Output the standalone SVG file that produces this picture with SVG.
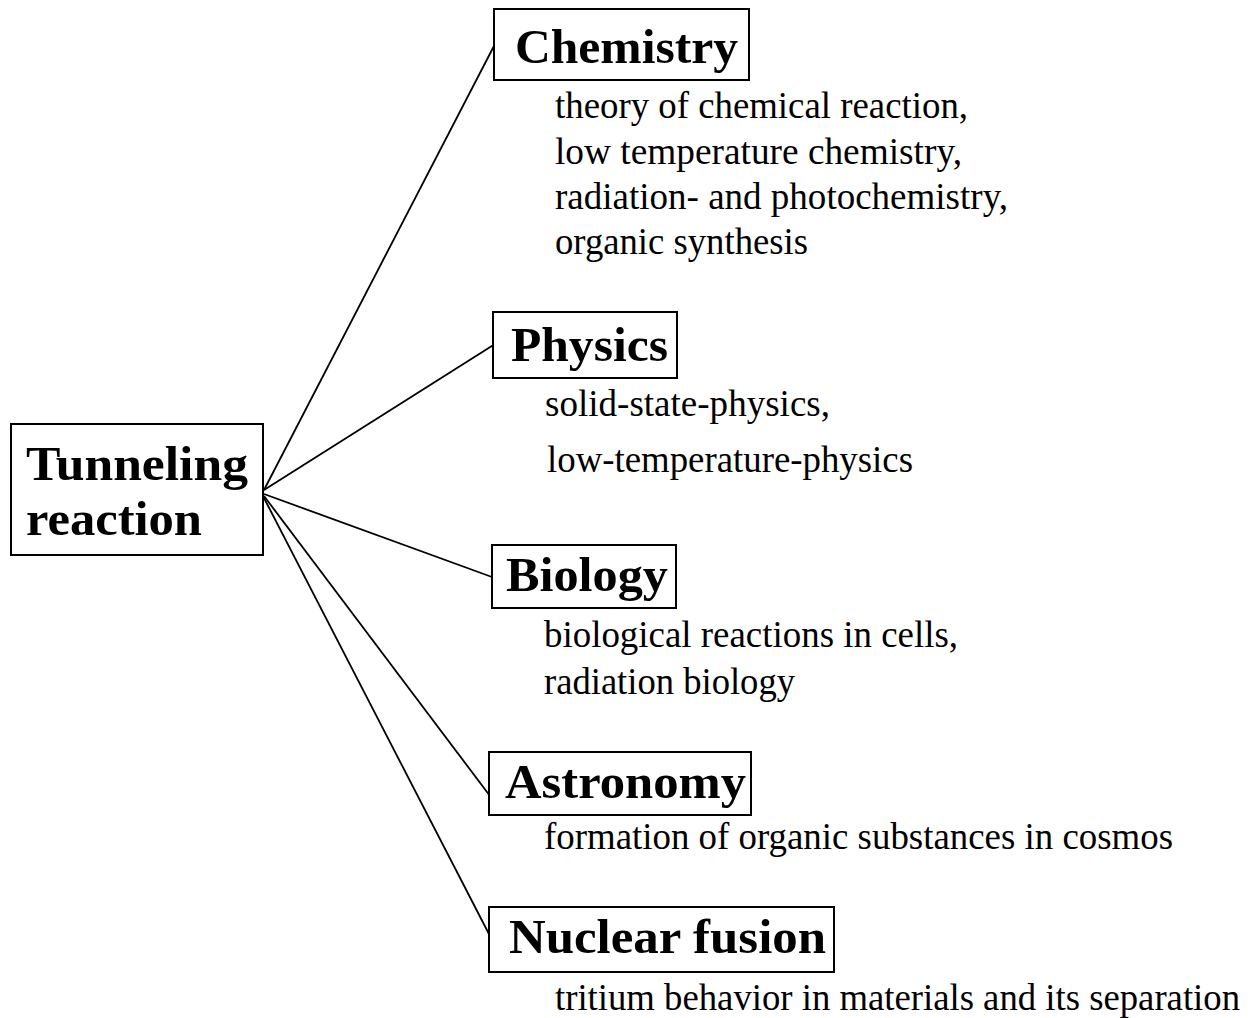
<svg xmlns="http://www.w3.org/2000/svg" width="1255" height="1018" viewBox="0 0 1255 1018">
<style>
.box{fill:#fff;stroke:#000;stroke-width:2}
.h{font-family:"Liberation Serif","Times New Roman",serif;font-weight:bold;font-size:49px;fill:#000}
.b{font-family:"Liberation Serif","Times New Roman",serif;font-size:37px;fill:#000}
.c{stroke:#000;stroke-width:1.8;fill:none}
</style>
<rect width="1255" height="1018" fill="#fff"/>
<g id="connectors">
<line class="c" x1="264" y1="490" x2="495" y2="44"/>
<line class="c" x1="264" y1="490" x2="495" y2="344"/>
<line class="c" x1="264" y1="494" x2="492" y2="577"/>
<line class="c" x1="264" y1="496" x2="490" y2="796"/>
<line class="c" x1="264" y1="498" x2="490" y2="936"/>
</g>
<g id="tunneling">
<rect class="box" x="11" y="424" width="252" height="131"/>
<text class="h" x="26" y="480" textLength="222" lengthAdjust="spacingAndGlyphs">Tunneling</text>
<text class="h" x="26" y="535" textLength="176" lengthAdjust="spacingAndGlyphs">reaction</text>
</g>
<g id="chemistry">
<rect class="box" x="494" y="9" width="255" height="71"/>
<text class="h" x="515" y="63" textLength="223" lengthAdjust="spacingAndGlyphs">Chemistry</text>
<text class="b" x="555" y="118" textLength="413" lengthAdjust="spacingAndGlyphs">theory of chemical reaction,</text>
<text class="b" x="555" y="164" textLength="407" lengthAdjust="spacingAndGlyphs">low temperature chemistry,</text>
<text class="b" x="555" y="209" textLength="453" lengthAdjust="spacingAndGlyphs">radiation- and photochemistry,</text>
<text class="b" x="555" y="254" textLength="253" lengthAdjust="spacingAndGlyphs">organic synthesis</text>
</g>
<g id="physics">
<rect class="box" x="493" y="312" width="184" height="66"/>
<text class="h" x="511" y="361" textLength="157" lengthAdjust="spacingAndGlyphs">Physics</text>
<text class="b" x="545" y="416" textLength="285" lengthAdjust="spacingAndGlyphs">solid-state-physics,</text>
<text class="b" x="547" y="472" textLength="366" lengthAdjust="spacingAndGlyphs">low-temperature-physics</text>
</g>
<g id="biology">
<rect class="box" x="492" y="545" width="184" height="63"/>
<text class="h" x="506" y="591" textLength="162" lengthAdjust="spacingAndGlyphs">Biology</text>
<text class="b" x="544" y="647" textLength="414" lengthAdjust="spacingAndGlyphs">biological reactions in cells,</text>
<text class="b" x="544" y="694" textLength="251" lengthAdjust="spacingAndGlyphs">radiation biology</text>
</g>
<g id="astronomy">
<rect class="box" x="489" y="752" width="262" height="63"/>
<text class="h" x="505" y="798" textLength="241" lengthAdjust="spacingAndGlyphs">Astronomy</text>
<text class="b" x="544" y="849" textLength="629" lengthAdjust="spacingAndGlyphs">formation of organic substances in cosmos</text>
</g>
<g id="nuclear-fusion">
<rect class="box" x="489" y="907" width="345" height="65"/>
<text class="h" x="509" y="953" textLength="317" lengthAdjust="spacingAndGlyphs">Nuclear fusion</text>
<text class="b" x="555" y="1010" textLength="685" lengthAdjust="spacingAndGlyphs">tritium behavior in materials and its separation</text>
</g>
</svg>
